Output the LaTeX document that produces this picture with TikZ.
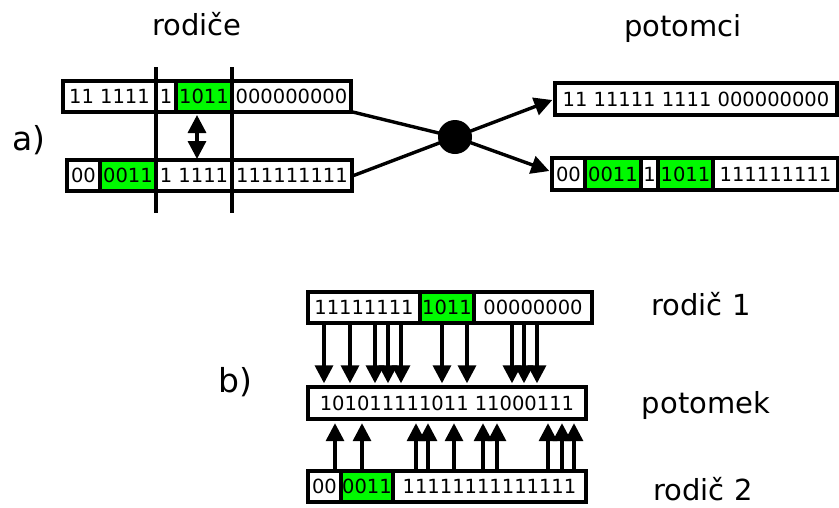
\documentclass[tikz,border=0pt]{standalone}
\usepackage{fontspec}
\setmainfont{DejaVu Sans}
\usetikzlibrary{arrows.meta}
\definecolor{genegreen}{RGB}{0,250,0}
% one cell of a chromosome: name, x1, x2, y1, y2, fill, bits
\newcommand\gcell[7]{%
  \node[cell,fill=#6,minimum width={#3-#2},minimum height={#5-#4}] (#1)
    at ({(#2+#3)/2},{(#4+#5)/2}) {#7};}
\begin{document}
\begin{tikzpicture}[x=1pt,y=-1pt,
  cell/.style={draw,line width=3.4pt,inner sep=0pt,
    font=\fontsize{19.5}{23}\selectfont},
  label/.style={anchor=base,inner sep=0pt,font=\fontsize{29}{34}\selectfont},
  part/.style={anchor=base,inner sep=0pt,font=\fontsize{33}{38}\selectfont},
  link/.style={line width=3.4pt},
  arr/.style={line width=3.4pt,-{Triangle[length=18pt,width=18pt]}},
  swap/.style={line width=3.4pt,{Triangle[length=18pt,width=18pt]}-{Triangle[length=18pt,width=18pt]}}]
\useasboundingbox (0,0) rectangle (839,507);

% ---------- a) one-point crossover ----------
\node[label] (tRodice) at (197,35) {rodiče};
\node[label] (tPotomci) at (683,36) {potomci};
\node[part] (tA) at (29,150) {a)};

% parents
\gcell{pa1}{63}{156}{81}{112}{white}{11 1111}
\gcell{pa2}{156}{176}{81}{112}{white}{1}
\gcell{pa3}{176}{232}{81}{112}{genegreen}{1011}
\gcell{pa4}{232}{351}{81}{112}{white}{000000000}

\gcell{pb1}{67}{100}{160}{191}{white}{00}
\gcell{pb2}{100}{156}{160}{191}{genegreen}{0011}
\gcell{pb3}{156}{232}{160}{191}{white}{1 1111}
\gcell{pb4}{232}{352}{160}{191}{white}{111111111}

% cut points
\coordinate (cutLtop) at (156,67);
\coordinate (cutLbot) at (156,213);
\coordinate (cutRtop) at (232,67);
\coordinate (cutRbot) at (232,213);
\draw[link] (cutLtop) -- (cutLbot);
\draw[link] (cutRtop) -- (cutRbot);

% exchanged section
\coordinate (swapTop) at (197,115);
\coordinate (swapBot) at (197,159);
\draw[swap] (swapTop) -- (swapBot);

% children
\gcell{ca1}{555}{837}{83}{115}{white}{11 11111 1111 000000000}

\gcell{cb1}{552}{585}{158}{190}{white}{00}
\gcell{cb2}{585}{641}{158}{190}{genegreen}{0011}
\gcell{cb3}{641}{658}{158}{190}{white}{1}
\gcell{cb4}{658}{713}{158}{190}{genegreen}{1011}
\gcell{cb5}{713}{838}{158}{190}{white}{111111111}

% crossover operator
\node[circle,fill=black,minimum size=34pt,inner sep=0pt] (cross) at (455,137) {};
\draw[link] ([yshift=-15.5pt]pa4.east) -- (cross.center);
\draw[link] (pb4.east) -- (cross.center);
\draw[arr] (cross.center) -- ([xshift=-1pt,yshift=-1pt]ca1.west);
\draw[arr] (cross.center) -- ([xshift=-1pt,yshift=3pt]cb1.west);

% ---------- b) uniform crossover ----------
\node[part] (tB) at (235,392) {b)};
\node[label] (tRodic1) at (701,315) {rodič 1};
\node[label] (tPotomek) at (706,413) {potomek};
\node[label] (tRodic2) at (703,500) {rodič 2};

\gcell{ra1}{308}{420}{292}{323}{white}{11111111}
\gcell{ra2}{420}{474}{292}{323}{genegreen}{1011}
\gcell{ra3}{474}{592}{292}{323}{white}{00000000}

\gcell{kid}{308}{586}{387}{419}{white}{101011111011 11000111}

\gcell{rb1}{308}{341}{471}{502}{white}{00}
\gcell{rb2}{341}{393}{471}{502}{genegreen}{0011}
\gcell{rb3}{393}{586}{471}{502}{white}{11111111111111}

\foreach \x in {324,350,375,388,401,442,467,512,524,537}
  \draw[arr,shorten >=2pt] (\x,0 |- ra1.south) -- (\x,0 |- kid.north);
\foreach \x in {335,362,416,428,454,483,497,548,562,574}
  \draw[arr,shorten >=2.5pt] (\x,0 |- rb1.north) -- (\x,0 |- kid.south);
\end{tikzpicture}
\end{document}
